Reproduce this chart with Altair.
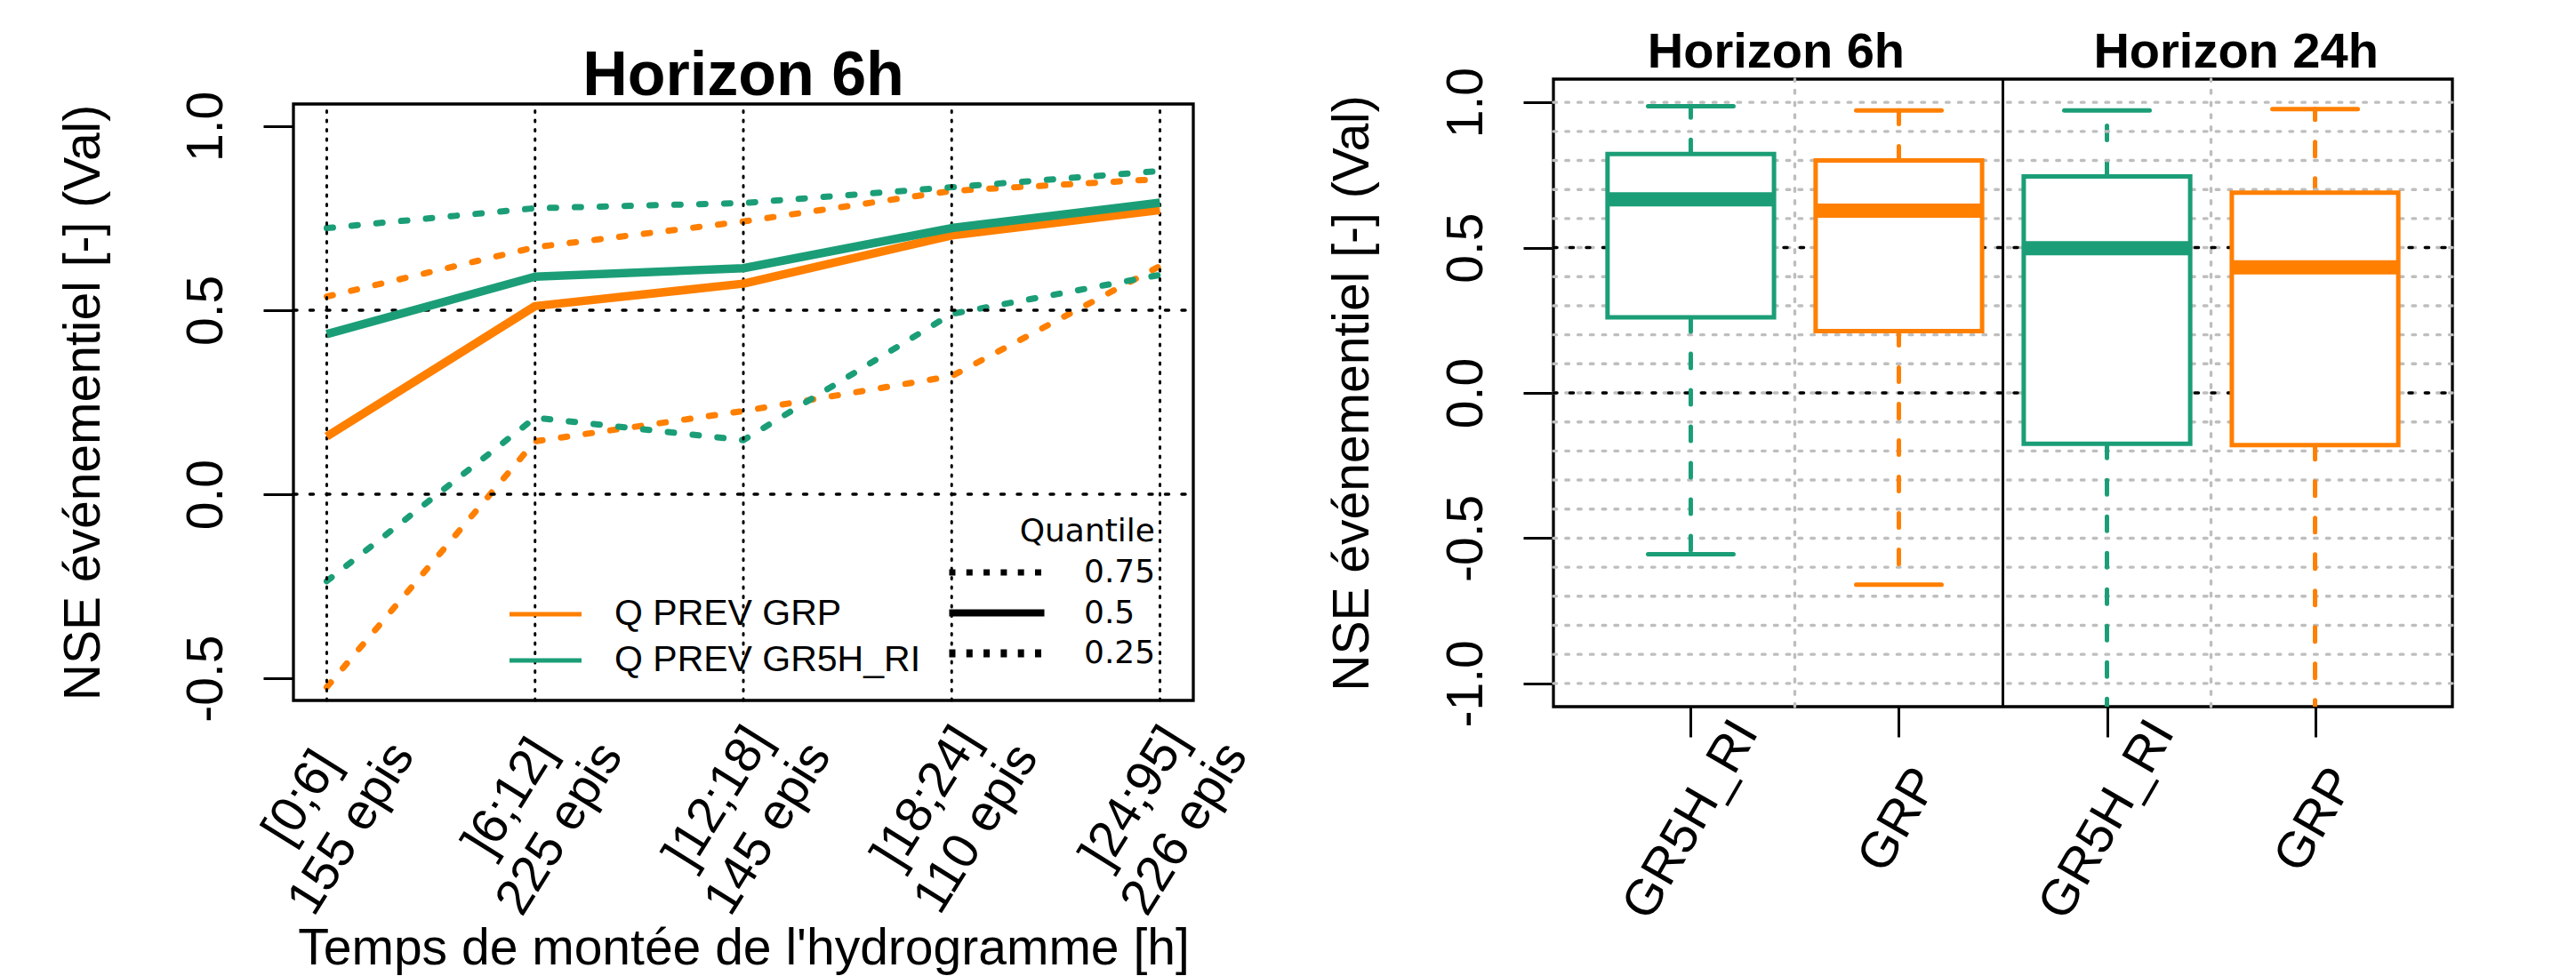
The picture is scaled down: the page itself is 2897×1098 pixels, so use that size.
import altair as alt
import pandas as pd

FONT = "Liberation Sans"
LEG_FONT = "DejaVu Sans"

# ---------------- left panel data ----------------
classes = ["[0;6]", "]6;12]", "]12;18]", "]18;24]", "]24;95]"]
n_events = [155, 225, 145, 110, 226]
quantiles = ["0.75", "0.5", "0.25"]
series_names = ["Q PREV GRP", "Q PREV GR5H_RI"]
series_colors = ["#FF7F00", "#1B9E77"]
grp_q75 = [0.537, 0.671, 0.741, 0.824, 0.856]
grp_q50 = [0.157, 0.511, 0.572, 0.703, 0.772]
grp_q25 = [-0.524, 0.144, 0.226, 0.321, 0.620]
gr5h_q75 = [0.723, 0.777, 0.791, 0.834, 0.878]
gr5h_q50 = [0.435, 0.591, 0.614, 0.723, 0.792]
gr5h_q25 = [-0.236, 0.208, 0.147, 0.490, 0.596]
left_title = "Horizon 6h"
left_xtitle = "Temps de montée de l'hydrogramme [h]"
ytitle = "NSE événementiel [-] (Val)"
left_yticks = [-0.5, 0.0, 0.5, 1.0]
left_refs = [0.0, 0.5]

# ---------------- right panel data ----------------
box_labels = ["GR5H_RI", "GRP", "GR5H_RI", "GRP"]
box_lo = [-0.555, -0.660, -1.60, -1.60]
box_q1 = [0.260, 0.213, -0.175, -0.180]
box_med = [0.666, 0.627, 0.498, 0.432]
box_q3 = [0.822, 0.800, 0.745, 0.689]
box_hi = [0.987, 0.972, 0.972, 0.977]
box_models = ["GR5H_RI", "GRP"]
box_colors = ["#1B9E77", "#FF7F00"]
panel_titles = ["Horizon 6h", "Horizon 24h"]
panel_title_pos = [1.41, 3.62]
right_yticks = [-1.0, -0.5, 0.0, 0.5, 1.0]
right_fine_grid = [-1.0, -0.9, -0.8, -0.7, -0.6, -0.5, -0.4, -0.3, -0.2, -0.1, 0.0,
                   0.1, 0.2, 0.3, 0.4, 0.5, 0.6, 0.7, 0.8, 0.9, 1.0]
right_vgrid = [1.5, 3.5]
right_sep = [2.5]
right_refs = [0.0, 0.5]

one = pd.DataFrame({"k": [0]})


def yaxis(values, title_x):
    return alt.Axis(
        values=values,
        labelExpr="(datum.value < 0 ? '-' : '') + format(abs(datum.value), '.1f')",
        labelAngle=270, labelAlign="center", labelBaseline="middle", labelPadding=64,
        labelFontSize=57, labelFont=FONT, labelColor="black",
        tickSize=34, tickWidth=3, tickColor="black", domain=False, grid=False,
        labelFlush=False, labelOverlap=False,
        title=ytitle, titleFontSize=57, titleFont=FONT, titleFontWeight="normal",
        titleColor="black", titleX=title_x, titleAngle=270, titleBaseline="middle",
        titleAlign="center",
    )


# ================= LEFT =================
W1, H1, TOP1 = 1012, 699, 28
XL1, XH1 = 0.84, 5.16
YL1, YH1 = -0.56, 1.06
xs1 = alt.Scale(domain=[XL1, XH1], nice=False, zero=False)
ys1 = alt.Scale(domain=[YL1, YH1], nice=False, zero=False, range=[H1, TOP1])

rows = []
for s, qs in zip(series_names, [(grp_q75, grp_q50, grp_q25), (gr5h_q75, gr5h_q50, gr5h_q25)]):
    for q, vals in zip(quantiles, qs):
        for i, v in enumerate(vals):
            rows.append({"pos": i + 1, "serie": s, "quantile": q, "nse": v})
lines_df = pd.DataFrame(rows)

pos_df = pd.DataFrame({
    "pos": list(range(1, len(classes) + 1)),
    "lab": [f"{c}\n{n} epis" for c, n in zip(classes, n_events)],
})

LINE_SYM = "M-4,0L4,0"
color_enc = alt.Color(
    "serie:N", scale=alt.Scale(domain=series_names, range=series_colors),
    legend=alt.Legend(orient="none", legendX=263, legendY=581.5, title=None,
                      symbolType=LINE_SYM, symbolSize=410, symbolStrokeWidth=5,
                      labelFontSize=41, labelFont=FONT, labelColor="black",
                      labelOffset=57, rowPadding=10, padding=0, labelLimit=0))
q_legend = alt.Legend(orient="none", legendX=773, legendY=492, title="Quantile",
                      titleFontSize=36, titleFont=LEG_FONT, titleFontWeight="normal",
                      titleColor="black", titleAnchor="end", titleAlign="right",
                      titlePadding=9, symbolType=LINE_SYM, symbolSize=716,
                      symbolStrokeColor="black",
                      labelFontSize=36, labelFont=LEG_FONT, labelColor="black",
                      labelOffset=80, rowPadding=9.5, padding=0, labelLimit=0)

vgrid1 = alt.Chart(pos_df).mark_rule(color="black", strokeWidth=3, strokeDash=[2, 8.5], strokeCap="round").encode(
    x=alt.X("pos:Q", scale=xs1),
    y=alt.YDatum(YL1, scale=ys1), y2=alt.Y2Datum(YH1))
hgrid1 = alt.Chart(pd.DataFrame({"v": left_refs})).mark_rule(color="black", strokeWidth=3.5, strokeDash=[4, 14.5], strokeCap="round").encode(
    y=alt.Y("v:Q", scale=ys1),
    x=alt.XDatum(XL1, scale=xs1), x2=alt.X2Datum(XH1))

q_lines = alt.Chart(lines_df).transform_filter("datum.quantile != '0.5'").mark_line(
    strokeWidth=7, strokeCap="round", strokeDash=[7, 21]).encode(
    x=alt.X("pos:Q", scale=xs1, axis=alt.Axis(labels=False, ticks=False, domain=False, grid=False,
                                                title=left_xtitle, titleFontSize=57, titleFont=FONT,
                                                titleFontWeight="normal", titleColor="black",
                                                titleY=296, titleBaseline="alphabetic")),
    y=alt.Y("nse:Q", scale=ys1, axis=yaxis(left_yticks, -236)),
    color=color_enc, detail="quantile:N")
m_lines = alt.Chart(lines_df).transform_filter("datum.quantile == '0.5'").mark_line(
    strokeWidth=9.5, strokeCap="butt", strokeJoin="round").encode(
    x=alt.X("pos:Q", scale=xs1),
    y=alt.Y("nse:Q", scale=ys1),
    color=color_enc)
# legend-only layer for the quantile line styles (no rows drawn)
q_key = alt.Chart(lines_df).transform_filter("datum.pos < 0").mark_line().encode(
    x=alt.X("pos:Q", scale=xs1),
    y=alt.Y("nse:Q", scale=ys1),
    strokeDash=alt.StrokeDash("quantile:N", scale=alt.Scale(domain=quantiles, range=[[7, 12.3], [1, 0], [7, 12.3]]),
                              legend=q_legend),
    strokeWidth=alt.StrokeWidth("quantile:N", scale=alt.Scale(domain=quantiles, range=[7, 9, 7]),
                                legend=q_legend))

frame1 = alt.Chart(one).mark_rect(fill="transparent", stroke="black", strokeWidth=3.3).encode(
    x=alt.XDatum(XL1, scale=xs1), x2=alt.X2Datum(XH1),
    y=alt.YDatum(YL1, scale=ys1), y2=alt.Y2Datum(YH1))

xlab1 = alt.Chart(pos_df).mark_text(angle=302, align="center", baseline="middle", lineBreak="\n",
                                    fontSize=57, lineHeight=66, dy=-33, font=FONT, color="black").encode(
    x=alt.X("pos:Q", scale=xs1), y=alt.value(826), text="lab:N")

title1 = alt.Chart(one).mark_text(text=left_title, fontSize=70, fontWeight="bold", font=FONT,
                                  baseline="alphabetic", align="center", color="black").encode(
    x=alt.XDatum((XL1 + XH1) / 2, scale=xs1), y=alt.value(18))

left = alt.layer(q_lines, vgrid1, hgrid1, m_lines, q_key, frame1, xlab1, title1).properties(
    width=W1, height=H1, view=alt.ViewBackground(stroke="transparent"))

# ================= RIGHT =================
W2, H2 = 1011, 706
XL2, XH2 = 0.34, 4.66
YL2, YH2 = -1.08, 1.08
xs2 = alt.Scale(domain=[XL2, XH2], nice=False, zero=False)
ys2 = alt.Scale(domain=[YL2, YH2], nice=False, zero=False)

box_df = pd.DataFrame({"pos": [1, 2, 3, 4], "mdl": box_labels, "lo": box_lo, "q1": box_q1,
                       "med": box_med, "q3": box_q3, "hi": box_hi})
box_base = alt.Chart(box_df).transform_calculate(
    bl="datum.pos - 0.4", br="datum.pos + 0.4", cl="datum.pos - 0.205", cr="datum.pos + 0.205")
mcol = alt.Color("mdl:N", scale=alt.Scale(domain=box_models, range=box_colors), legend=None)
mstroke = alt.Stroke("mdl:N", scale=alt.Scale(domain=box_models, range=box_colors), legend=None)

label_array = "[" + ",".join(f"'{s}'" for s in box_labels) + "]"
xaxis2 = alt.Axis(values=[1, 2, 3, 4], labelExpr=label_array + "[datum.value - 1]",
                  labelAngle=300, labelAlign="center", labelBaseline="middle", labelPadding=93,
                  labelFontSize=57, labelFont=FONT, labelColor="black", labelLimit=0,
                  tickSize=34, tickWidth=3,
                  tickColor="black", domain=False, grid=False, title=None,
                  labelFlush=False, labelOverlap=False)

wh_up = box_base.mark_rule(strokeWidth=5, strokeDash=[16, 25], strokeCap="round", clip=True).encode(
    x=alt.X("pos:Q", scale=xs2, axis=xaxis2),
    y=alt.Y("q3:Q", scale=ys2, axis=yaxis(right_yticks, -226)),
    y2="hi:Q", color=mcol)
fine2 = alt.Chart(pd.DataFrame({"v": right_fine_grid})).mark_rule(color="#BEBEBE", strokeWidth=3.4, strokeDash=[3.6, 10.2], strokeCap="round").encode(
    y=alt.Y("v:Q", scale=ys2),
    x=alt.XDatum(XL2, scale=xs2), x2=alt.X2Datum(XH2))
vgrid2 = alt.Chart(pd.DataFrame({"p": right_vgrid})).mark_rule(color="#BEBEBE", strokeWidth=3.4, strokeDash=[3.6, 10.2], strokeCap="round").encode(
    x=alt.X("p:Q", scale=xs2),
    y=alt.YDatum(YL2, scale=ys2), y2=alt.Y2Datum(YH2))
refs2 = alt.Chart(pd.DataFrame({"v": right_refs})).mark_rule(color="black", strokeWidth=3.5, strokeDash=[4, 14.5], strokeCap="round").encode(
    y=alt.Y("v:Q", scale=ys2),
    x=alt.XDatum(XL2, scale=xs2), x2=alt.X2Datum(XH2))
sep2 = alt.Chart(pd.DataFrame({"p": right_sep})).mark_rule(color="black", strokeWidth=3).encode(
    x=alt.X("p:Q", scale=xs2),
    y=alt.YDatum(YL2, scale=ys2), y2=alt.Y2Datum(YH2))
wh_lo = box_base.mark_rule(strokeWidth=5, strokeDash=[16, 25], strokeCap="round", clip=True).encode(
    x=alt.X("pos:Q", scale=xs2), y=alt.Y("q1:Q", scale=ys2), y2="lo:Q", color=mcol)
cap_hi = box_base.mark_rule(strokeWidth=5, strokeCap="round", clip=True).encode(
    x=alt.X("cl:Q", scale=xs2), x2="cr:Q", y=alt.Y("hi:Q", scale=ys2), color=mcol)
cap_lo = box_base.mark_rule(strokeWidth=5, strokeCap="round", clip=True).encode(
    x=alt.X("cl:Q", scale=xs2), x2="cr:Q", y=alt.Y("lo:Q", scale=ys2), color=mcol)
boxes = box_base.mark_rect(fill="white", strokeWidth=5).encode(
    x=alt.X("bl:Q", scale=xs2), x2="br:Q",
    y=alt.Y("q1:Q", scale=ys2), y2="q3:Q", stroke=mstroke)
medians = box_base.mark_rule(strokeWidth=16, strokeCap="butt").encode(
    x=alt.X("bl:Q", scale=xs2), x2="br:Q",
    y=alt.Y("med:Q", scale=ys2), color=mcol)
titles2 = alt.Chart(pd.DataFrame({"t": panel_titles, "p": panel_title_pos})).mark_text(
    fontSize=56, fontWeight="bold", baseline="alphabetic", align="center", font=FONT, color="black").encode(
    x=alt.X("p:Q", scale=xs2), y=alt.value(-13), text="t:N")

right = alt.layer(wh_up, fine2, vgrid2, refs2, sep2, wh_lo, cap_hi, cap_lo, boxes, medians, titles2).properties(
    width=W2, height=H2, view=alt.ViewBackground(stroke="black", strokeWidth=3.3))

chart = alt.hconcat(left, right, spacing=405, bounds="flush").resolve_scale(
    color="independent").properties(
    padding={"left": 56, "top": 21, "right": 10, "bottom": 10},
    background="white").configure(font=FONT)

chart.save("out.html", embed_options={"renderer": "svg", "actions": False})
